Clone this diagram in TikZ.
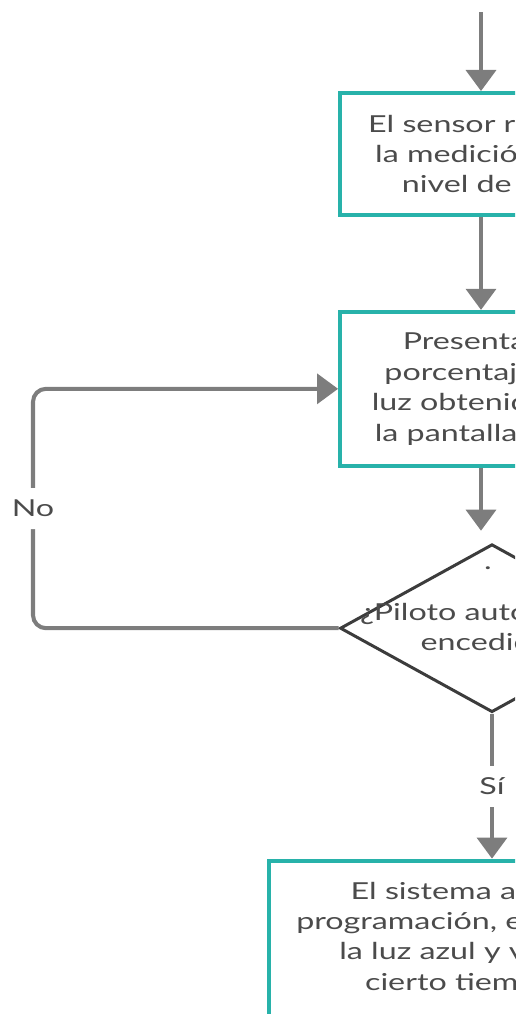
\documentclass[tikz,border=0pt]{standalone}
\usepackage{fontspec}
\setmainfont{Lato}[FakeStretch=1.38]
\usepackage{xcolor}
\usetikzlibrary{shapes,arrows.meta,positioning}

\definecolor{boxteal}{RGB}{40,178,170}
\definecolor{flowgray}{RGB}{125,125,125}
\definecolor{txtgray}{RGB}{75,75,75}
\definecolor{diagray}{RGB}{60,60,60}

\begin{document}
\begin{tikzpicture}[
  x=0.02cm, y=-0.02cm,
  font=\fontsize{13.3}{17.3}\selectfont,
  procbox/.style={rectangle, draw=boxteal, line width=2.2pt, minimum width=5.64cm, align=center, text=txtgray, inner sep=0pt},
  decision/.style={diamond, draw=diagray, line width=1.7pt, minimum width=6.08cm, minimum height=3.36cm, inner sep=0pt},
  txt/.style={align=center, text=txtgray},
  flow/.style={-{Triangle[width=17pt,length=12pt]}, flowgray, line width=2.3pt},
  lab/.style={fill=white, text=txtgray, minimum height=0.82cm, inner sep=1pt}
]

% Visible window of the chart
\useasboundingbox (0,0) rectangle (515,1014);
\clip (0,0) rectangle (515,1014);

% Main column
\node[procbox, minimum height=2.44cm] (sensor) at (481,154) {El sensor realiza\\la medición del\\nivel de luz};
\node[procbox, minimum height=3.08cm, below=1.86cm of sensor] (display) {Presenta el\\porcentaje de\\luz obtenido en\\la pantalla LCD};
\node[decision, below=1.5cm of display, xshift=0.22cm] (pilot) {};
\node[txt] (pilottext) at ([yshift=0.02cm]pilot) {¿Piloto automático\\encedido?};
\node[txt] (dot) at (488,568) {.};
\node[procbox, minimum width=8.92cm, minimum height=3.1cm, below=2.9cm of pilot] (action) {El sistema actúa por\\programación, encendiendo\\la luz azul y verde por\\cierto tiempo y se};

% Incoming arrow from above
\coordinate (entry) at (481,12);
\draw[flow] (entry) -- (sensor);

% Vertical arrows
\draw[flow] (sensor) -- (display);
\draw[flow, shorten >=0.24cm] (display.south) -- (display.south |- pilot.north);

% No loop back to the display step
\coordinate (loopx) at (33,0);
\draw[flow, rounded corners=0.26cm] (pilot.west) -- (pilot.west -| loopx) -- node[lab] {No} (display.west -| loopx) -- (display.west);

% Yes branch
\draw[flow] (pilot.south) -- node[lab] {Sí} (action.north);

\end{tikzpicture}
\end{document}
